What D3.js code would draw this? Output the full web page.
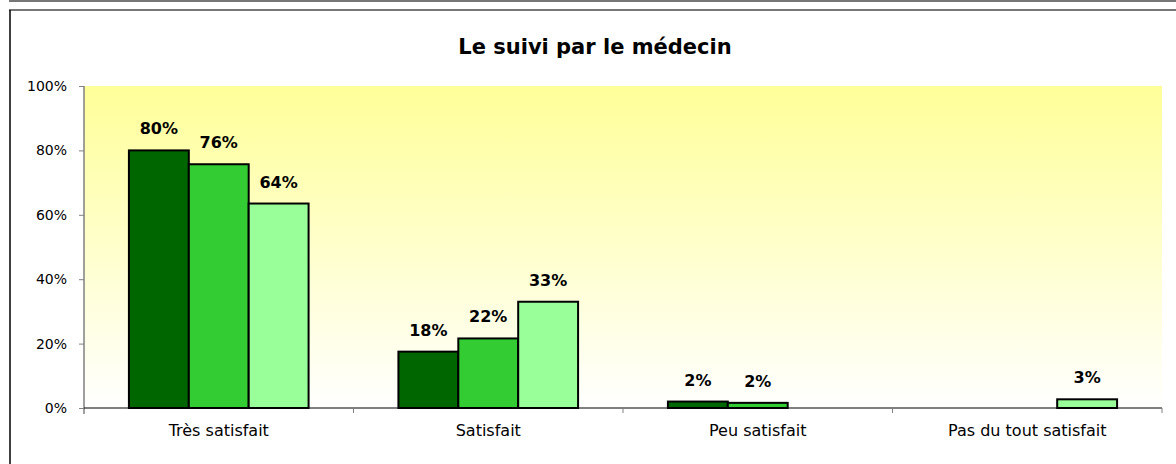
<!DOCTYPE html>
<html>
<head>
<meta charset="utf-8">
<script src="https://cdn.jsdelivr.net/npm/d3@7"></script>
<style>
  body { margin: 0; background: #fff; }
  svg { display: block; }
  svg text { font-family: "DejaVu Sans", Verdana, sans-serif; }
</style>
</head>
<body>
<div id="chart"></div>
<script>
// categories and series (percent)
var categories = ["Très satisfait", "Satisfait", "Peu satisfait", "Pas du tout satisfait"];
var seriesNames = ["s1", "s2", "s3"];
var serie1 = [80, 17.5, 2.0, null];
var serie2 = [75.7, 21.6, 1.6, null];
var serie3 = [63.5, 33.0, null, 2.7];
var labels1 = ["80%", "18%", "2%", null];
var labels2 = ["76%", "22%", "2%", null];
var labels3 = ["64%", "33%", null, "3%"];
var yTicks = [0, 20, 40, 60, 80, 100];
var colors = ["#006600", "#33cc33", "#99ff99"];

var W = 1176, H = 464;
var margin = {top: 86, right: 14, bottom: 56, left: 84};
var width = W - margin.left - margin.right,
    height = 408 - margin.top;

var svg = d3.select("#chart").append("svg")
  .attr("width", W)
  .attr("height", H);

// outer frame lines
svg.append("line").attr("x1", 9).attr("x2", W).attr("y1", 1).attr("y2", 1)
  .attr("stroke", "#777").attr("stroke-width", 2);
svg.append("line").attr("x1", 9).attr("x2", W).attr("y1", 10).attr("y2", 10)
  .attr("stroke", "#777").attr("stroke-width", 2);
svg.append("line").attr("x1", 10).attr("x2", 10).attr("y1", 10).attr("y2", H)
  .attr("stroke", "#000").attr("stroke-width", 1.5);

// background gradient
var defs = svg.append("defs");
var grad = defs.append("linearGradient").attr("id", "bg")
  .attr("x1", 0).attr("y1", 0).attr("x2", 0).attr("y2", 1);
grad.append("stop").attr("offset", "0%").attr("stop-color", "#ffff99");
grad.append("stop").attr("offset", "100%").attr("stop-color", "#ffffff");

var g = svg.append("g")
  .attr("transform", "translate(" + margin.left + "," + margin.top + ")");

g.append("rect")
  .attr("width", width).attr("height", height)
  .attr("fill", "url(#bg)");

// title
svg.append("text")
  .attr("x", 595).attr("y", 54)
  .attr("text-anchor", "middle")
  .style("font-weight", "bold")
  .style("font-size", "21px")
  .text("Le suivi par le médecin");

// scales
var x = d3.scaleBand().domain(categories).range([0, width]).paddingInner(0).paddingOuter(0);
var x1 = d3.scaleBand().domain(seriesNames)
  .range([x.bandwidth() * 0.75 / 4.5, x.bandwidth() * 3.75 / 4.5]);
var y = d3.scaleLinear().domain([0, 100]).range([height, 0]);

// y axis
var yAxis = g.append("g")
  .call(d3.axisLeft(y).tickValues(yTicks).tickSize(5).tickPadding(12)
    .tickFormat(function(d) { return d + "%"; }));
yAxis.attr("font-family", null).attr("font-size", null);
yAxis.select(".domain").attr("stroke", "#808080").attr("stroke-width", 1.5)
  .attr("d", "M0," + (height + 6) + "V0");
yAxis.selectAll(".tick line").attr("stroke", "#808080");
yAxis.selectAll("text").style("font-size", "14px").attr("fill", "#000");

// x axis
var xAxis = g.append("g")
  .attr("transform", "translate(0," + height + ")")
  .call(d3.axisBottom(x).tickSize(0).tickPadding(17));
xAxis.attr("font-family", null).attr("font-size", null);
xAxis.select(".domain").attr("stroke", "#000").attr("d", "M0,0H" + width);
xAxis.selectAll("text").style("font-size", "16px").attr("fill", "#000");
// category separator ticks
g.selectAll(".sep")
  .data(categories.slice(1).concat(["end"]))
  .enter().append("line")
  .attr("x1", function(d, i) { return x.step() * (i + 1); })
  .attr("x2", function(d, i) { return x.step() * (i + 1); })
  .attr("y1", height).attr("y2", height + 5)
  .attr("stroke", "#808080");

// bars
var allSeries = [serie1, serie2, serie3];
var allLabels = [labels1, labels2, labels3];
var rows = [];
allSeries.forEach(function(s, si) {
  s.forEach(function(v, ci) {
    if (v !== null) rows.push({cat: categories[ci], s: seriesNames[si], si: si, v: v, label: allLabels[si][ci]});
  });
});

g.selectAll(".bar")
  .data(rows)
  .enter().append("rect")
  .attr("x", function(d) { return x(d.cat) + x1(d.s); })
  .attr("y", function(d) { return y(d.v); })
  .attr("width", x1.bandwidth())
  .attr("height", function(d) { return height - y(d.v); })
  .attr("fill", function(d) { return colors[d.si]; })
  .attr("stroke", "#000")
  .attr("stroke-width", 2);

g.selectAll(".lbl")
  .data(rows)
  .enter().append("text")
  .attr("x", function(d) { return x(d.cat) + x1(d.s) + x1.bandwidth() / 2; })
  .attr("y", function(d) { return y(d.v) - 16; })
  .attr("text-anchor", "middle")
  .style("font-weight", "bold")
  .style("font-size", "16px")
  .text(function(d) { return d.label; });
</script>
</body>
</html>
